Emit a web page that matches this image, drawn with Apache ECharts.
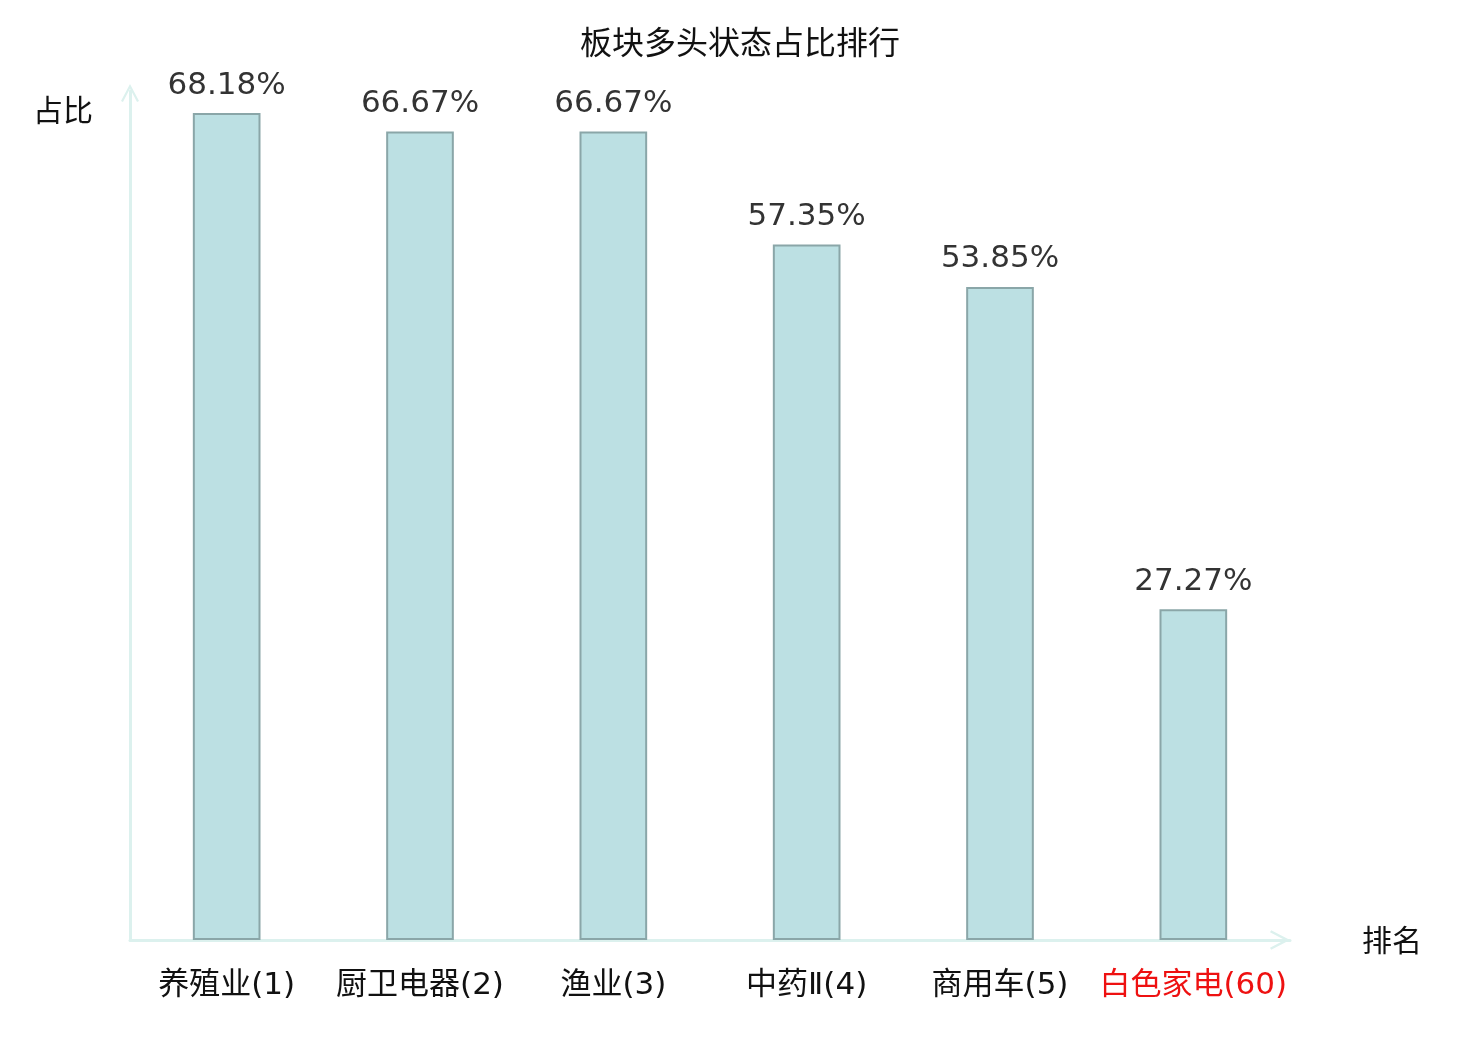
<!DOCTYPE html>
<html>
<head>
<meta charset="utf-8">
<title>板块多头状态占比排行</title>
<script src="https://cdn.jsdelivr.net/npm/echarts@6/dist/echarts.min.js"></script>
<style>
  html, body { margin: 0; padding: 0; background: #fff; }
  #chart { width: 1480px; height: 1040px; }
</style>
</head>
<body>
<div id="chart"></div>
<script>
// 数据:板块名称(排名)与多头状态占比(%)
var categories = ["养殖业(1)", "厨卫电器(2)", "渔业(3)", "中药Ⅱ(4)", "商用车(5)", "白色家电(60)"];
var ratios = [68.18, 66.67, 66.67, 57.35, 53.85, 27.27];
var highlight = ["白色家电(60)"]; // 当前板块,标签标红

var CJK = "'Noto Sans CJK SC', sans-serif";
var MIX = "'DejaVu Sans', 'Noto Sans CJK SC', sans-serif";
var AXIS_COLOR = "#dcf1ee";
// 空心箭头(向上),由 ECharts 按轴方向旋转
var CHEVRON = "path://M0,21 L11,0 L22,21 L19.6,22.3 L11,5.8 L2.4,22.3 Z";

var chart = echarts.init(document.getElementById("chart"), null, { renderer: "canvas" });

chart.setOption({
  animation: false,
  title: {
    text: "板块多头状态占比排行", left: "center", top: 21,
    textStyle: { fontFamily: CJK, fontSize: 32, fontWeight: "normal", color: "#111" }
  },
  grid: { left: 130, right: 190, top: 91, bottom: 100, containLabel: false },
  xAxis: {
    type: "category",
    data: categories.map(function (c) {
      return highlight.indexOf(c) >= 0 ? { value: c, textStyle: { color: "#ee1111" } } : c;
    }),
    name: "排名", nameLocation: "end", nameGap: 72,
    nameTextStyle: { fontFamily: CJK, fontSize: 30, color: "#111" },
    axisLine: { lineStyle: { color: AXIS_COLOR, width: 3 },
      symbol: ["none", CHEVRON], symbolSize: [20, 20], symbolOffset: [0, -10] },
    axisTick: { show: false },
    axisLabel: { fontFamily: MIX, fontSize: 31, color: "#111", margin: 30, interval: 0 }
  },
  yAxis: {
    type: "value", min: 0, max: 70,
    name: "占比", nameLocation: "end", nameGap: -34,
    nameTextStyle: { fontFamily: CJK, fontSize: 30, color: "#111", padding: [0, 134, 0, 0] },
    axisLine: { show: true, lineStyle: { color: AXIS_COLOR, width: 3 },
      symbol: ["none", CHEVRON], symbolSize: [18, 20], symbolOffset: [0, -2] },
    axisTick: { show: false },
    axisLabel: { show: false },
    splitLine: { show: false }
  },
  series: [{
    type: "bar", data: ratios, barWidth: "35%",
    itemStyle: { color: "#bce0e3", borderColor: "#8aa6a8", borderWidth: 2 },
    label: {
      show: true, position: "top", distance: 12,
      fontFamily: "'DejaVu Sans', sans-serif", fontSize: 31, color: "#333",
      formatter: function (p) { return p.value.toFixed(2) + "%"; }
    }
  }]
});
</script>
</body>
</html>
